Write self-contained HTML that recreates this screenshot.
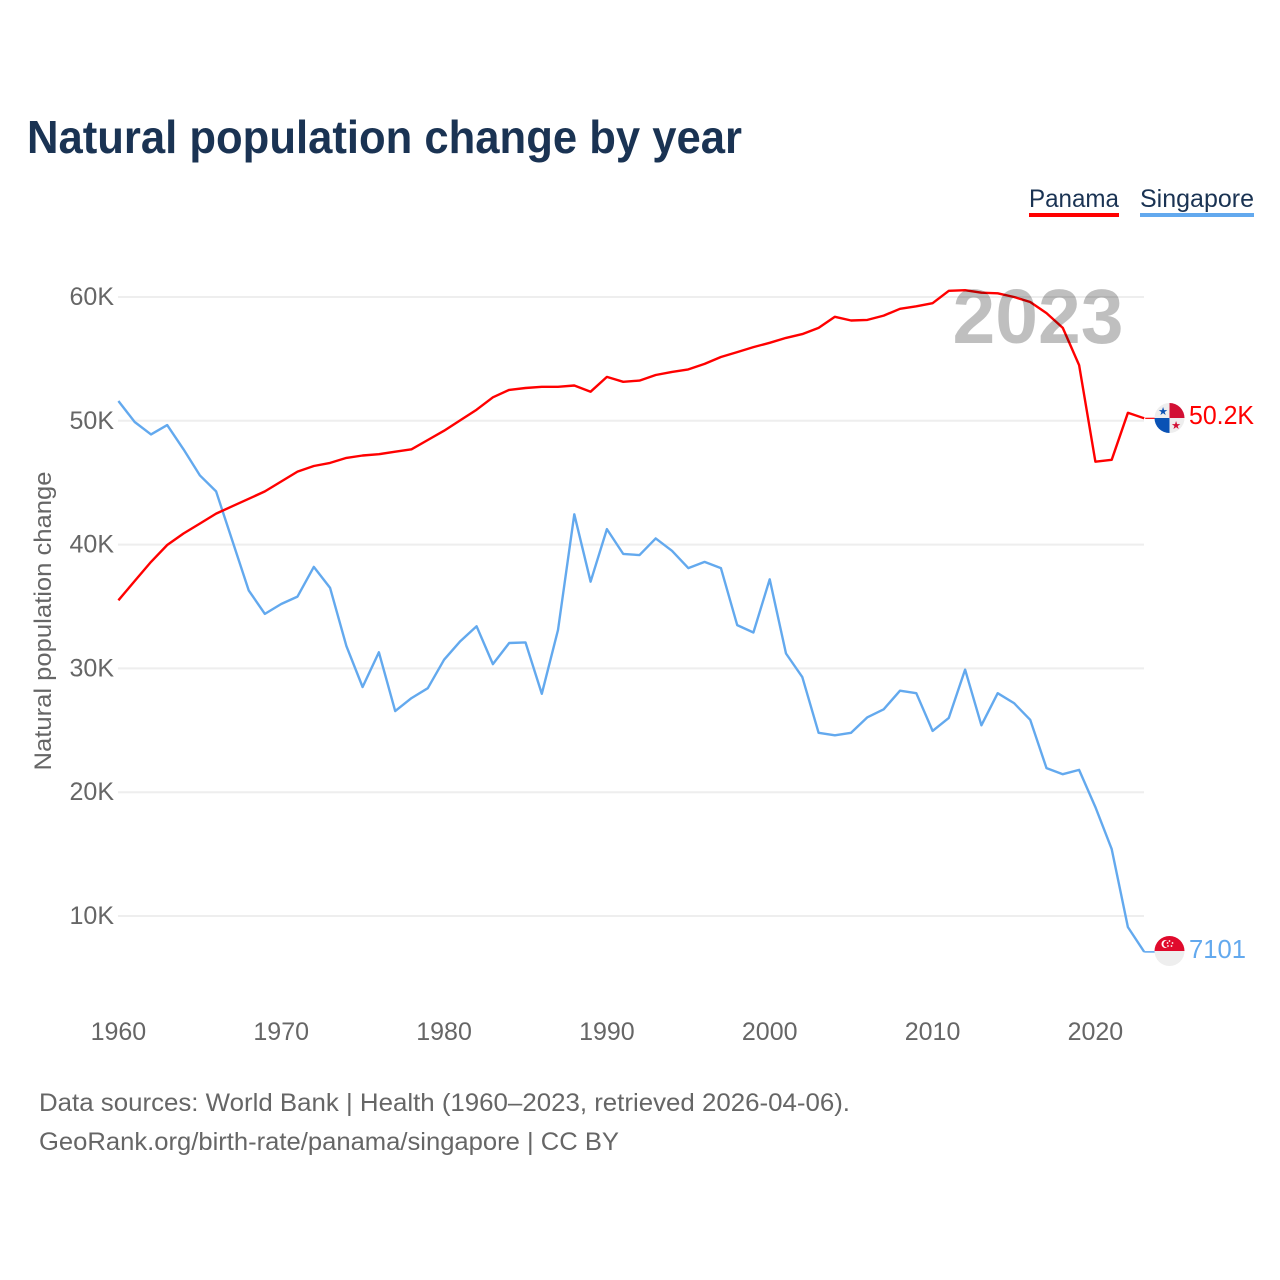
<!DOCTYPE html>
<html lang="en">
<head>
<meta charset="utf-8">
<title>Natural population change by year</title>
<style>
html,body{margin:0;padding:0;background:#fff;}
svg{display:block;font-family:"Liberation Sans",sans-serif;}
</style>
</head>
<body>
<svg id="chart" width="1280" height="1280" viewBox="0 0 1280 1280" xmlns="http://www.w3.org/2000/svg">
  <defs>
    <clipPath id="flag-clip-pa"><circle cx="1169.5" cy="418" r="15"/></clipPath>
    <clipPath id="flag-clip-sg"><circle cx="1169.5" cy="951" r="15"/></clipPath>
  </defs>
  <rect width="1280" height="1280" fill="#fff"/>
  <text x="27" y="153" font-size="46" font-weight="700" fill="#1a3353" textLength="715" lengthAdjust="spacingAndGlyphs">Natural population change by year</text>

  <g>
    <text x="1029" y="207" font-size="25" fill="#1a3353" textLength="90" lengthAdjust="spacingAndGlyphs">Panama</text>
    <rect x="1029" y="213" width="90" height="4" fill="#ff0000"/>
  </g>
  <g>
    <text x="1140" y="207" font-size="25" fill="#1a3353" textLength="114" lengthAdjust="spacingAndGlyphs">Singapore</text>
    <rect x="1140" y="213" width="114" height="4" fill="#63a9ee"/>
  </g>

  <g id="grid"></g>
  <g id="y-ticks"></g>
  <g id="x-ticks"></g>

  <text transform="translate(51,621) rotate(-90)" font-size="24.5" fill="#666" text-anchor="middle" textLength="299" lengthAdjust="spacingAndGlyphs">Natural population change</text>

  <g id="series"></g>

  <text x="1038" y="343" font-size="77" font-weight="700" fill="#000" fill-opacity="0.25" text-anchor="middle" textLength="171" lengthAdjust="spacingAndGlyphs">2023</text>

  <g>
    <g clip-path="url(#flag-clip-pa)">
      <rect x="1154" y="403" width="31" height="30" fill="#eeeeee"/>
      <rect x="1169.5" y="403" width="15.5" height="15" fill="#d21034"/>
      <rect x="1154" y="418" width="15.5" height="15" fill="#0a52b5"/>
    </g>
    <text x="1163" y="415" font-size="11" fill="#0a52b5" text-anchor="middle">★</text>
    <text x="1176" y="429" font-size="11" fill="#d21034" text-anchor="middle">★</text>
  </g>
  <g>
    <g clip-path="url(#flag-clip-sg)">
      <rect x="1154" y="936" width="31" height="15" fill="#e00a2c"/>
      <rect x="1154" y="951" width="31" height="16" fill="#eeeeee"/>
    </g>
    <circle cx="1165.5" cy="944" r="4" fill="#fff"/>
    <circle cx="1167" cy="944" r="3.6" fill="#e00a2c"/>
    <circle cx="1169.5" cy="941" r="0.9" fill="#fff"/>
    <circle cx="1172.5" cy="943" r="0.9" fill="#fff"/>
    <circle cx="1171.5" cy="946" r="0.9" fill="#fff"/>
    <circle cx="1168" cy="946" r="0.9" fill="#fff"/>
    <circle cx="1167.5" cy="943" r="0.9" fill="#fff"/>
  </g>

  <text x="1189" y="424" font-size="25.5" fill="#ff0000" textLength="65" lengthAdjust="spacingAndGlyphs">50.2K</text>
  <text x="1189" y="958" font-size="25.5" fill="#63a9ee" textLength="57" lengthAdjust="spacingAndGlyphs">7101</text>

  <text x="39" y="1111" font-size="25" fill="#666" textLength="811" lengthAdjust="spacingAndGlyphs">Data sources: World Bank | Health (1960–2023, retrieved 2026-04-06).</text>
  <text x="39" y="1150" font-size="25" fill="#666" textLength="580" lengthAdjust="spacingAndGlyphs">GeoRank.org/birth-rate/panama/singapore | CC BY</text>
</svg>
<script>
const startYear = 1960;
const yTickValues = [10, 20, 30, 40, 50, 60];
const yTickLabels = ["10K", "20K", "30K", "40K", "50K", "60K"];
const xTickValues = [1960, 1970, 1980, 1990, 2000, 2010, 2020];
const panamaValues = [35.5,37.06,38.6,39.97,40.9,41.7,42.5,43.1,43.7,44.3,45.1,45.9,46.35,46.6,47.0,47.2,47.3,47.5,47.7,48.45,49.2,50.05,50.9,51.9,52.5,52.65,52.75,52.75,52.85,52.35,53.55,53.15,53.25,53.7,53.95,54.15,54.6,55.15,55.55,55.95,56.3,56.7,57.0,57.5,58.4,58.1,58.15,58.5,59.05,59.25,59.5,60.5,60.55,60.35,60.3,60.0,59.6,58.7,57.5,54.5,46.7,46.85,50.65,50.2];
const singaporeValues = [51.6,49.9,48.9,49.65,47.7,45.6,44.3,40.3,36.3,34.4,35.2,35.8,38.2,36.5,31.8,28.5,31.3,26.55,27.6,28.4,30.7,32.2,33.4,30.35,32.05,32.1,27.95,33.1,42.45,37.0,41.25,39.25,39.15,40.5,39.5,38.1,38.6,38.1,33.5,32.9,37.2,31.2,29.3,24.8,24.6,24.8,26.05,26.7,28.2,28.0,24.95,26.0,29.9,25.4,28.0,27.2,25.85,21.95,21.45,21.8,18.8,15.4,9.1,7.101];

const NS = "http://www.w3.org/2000/svg";
function xScale(year) { return 118.4 + (year - 1960) * 16.283; }
function yScale(v) { return 916 - (v - 10) * 12.38; }
function make(tag, attrs, parent) {
  const el = document.createElementNS(NS, tag);
  for (const k in attrs) el.setAttribute(k, attrs[k]);
  parent.appendChild(el);
  return el;
}
const grid = document.getElementById("grid");
const yTicks = document.getElementById("y-ticks");
const xTicks = document.getElementById("x-ticks");
const series = document.getElementById("series");

yTickValues.forEach(function (v, i) {
  const line = make("line", { x1: 118, x2: 1144, y1: yScale(v), y2: yScale(v), stroke: "#eeeeee", "stroke-width": 2 }, grid);
  
  
  const t = make("text", { x: 114, y: yScale(v) + 8, "font-size": 25, fill: "#666", "text-anchor": "end" }, yTicks);
  
  
  t.textContent = yTickLabels[i];
});
xTickValues.forEach(function (year) {
  const t = make("text", { x: xScale(year), y: 1040, "font-size": 25, fill: "#666", "text-anchor": "middle" }, xTicks);
  
  
  t.textContent = String(year);
});
function pointsFor(values) {
  return values.map(function (v, i) {
    return xScale(startYear + i).toFixed(1) + "," + yScale(v).toFixed(1);
  }).join(" ");
}
const singaporeLine = make("polyline", { points: pointsFor(singaporeValues), fill: "none", stroke: "#63a9ee", "stroke-width": 2.4, "stroke-linejoin": "round" }, series);


const panamaLine = make("polyline", { points: pointsFor(panamaValues), fill: "none", stroke: "#ff0000", "stroke-width": 2.4, "stroke-linejoin": "round" }, series);



const lastX = xScale(startYear + panamaValues.length - 1);
const panamaLead = make("line", { x1: lastX + 1, x2: 1155, y1: yScale(panamaValues[panamaValues.length - 1]), y2: yScale(panamaValues[panamaValues.length - 1]), stroke: "#ff0000", "stroke-width": 1.2 }, series);


const singaporeLead = make("line", { x1: lastX, x2: 1155, y1: yScale(singaporeValues[singaporeValues.length - 1]), y2: yScale(singaporeValues[singaporeValues.length - 1]), stroke: "#63a9ee", "stroke-width": 1.6 }, series);


</script>
</body>
</html>
